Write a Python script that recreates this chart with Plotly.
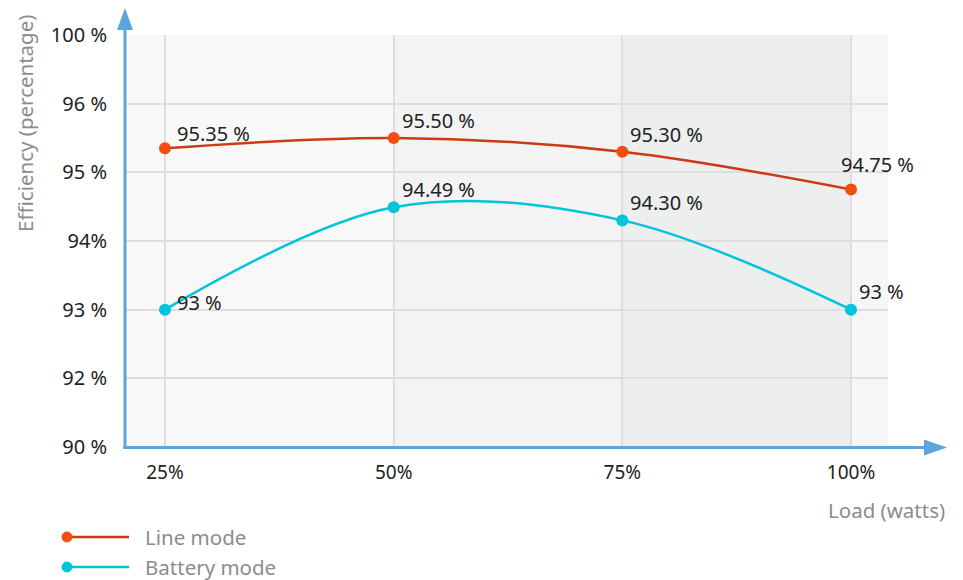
import numpy as np
import plotly.graph_objects as go

# ---- data ----
loads = [25, 50, 75, 100]
load_labels = ["25%", "50%", "75%", "100%"]
line_mode = [95.35, 95.50, 95.30, 94.75]
battery_mode = [93.0, 94.49, 94.30, 93.0]
line_mode_text = ["95.35 %", "95.50 %", "95.30 %", "94.75 %"]
battery_mode_text = ["93 %", "94.49 %", "94.30 %", "93 %"]
y_tick_values = [90, 92, 93, 94, 95, 96, 100]
y_tick_labels = ["90 %", "92 %", "93 %", "94%", "95 %", "96 %", "100 %"]

# the value axis is drawn with evenly spaced (non-linear) ticks
y_tick_pos = list(range(len(y_tick_values)))
def ypos(vals):
    return np.interp(vals, y_tick_values, y_tick_pos)

# ---- layout geometry (pixels) ----
FW, FH = 963, 580
L, R, T, B = 125, 888, 35, 447
PW, PH = R - L, B - T
def px(x):
    return (x - L) / PW
def py(y):
    return (B - y) / PH

RED_LINE = "#cc3a14"
RED_MARK = "#f24e12"
CYAN = "#00c3dc"
AXIS = "#5ca6db"
FONT = "Noto Sans"

fig = go.Figure()
fig.add_trace(go.Scatter(
    x=loads, y=ypos(line_mode), mode="lines+markers", name="Line mode",
    line=dict(color=RED_LINE, width=2.5, shape="spline", smoothing=1),
    marker=dict(color=RED_MARK, size=12), showlegend=False))
fig.add_trace(go.Scatter(
    x=loads, y=ypos(battery_mode), mode="lines+markers", name="Battery mode",
    line=dict(color=CYAN, width=2.5, shape="spline", smoothing=1),
    marker=dict(color=CYAN, size=12), showlegend=False))

annotations = []
# data labels (pixel offsets relative to marker)
line_offsets = [(10, -1), (6, 2), (6, 2), (-12, 10)]
batt_offsets = [(10, -8), (6, 2), (6, 2), (6, 3)]
for xs, vs, txt, offs in ((loads, line_mode, line_mode_text, line_offsets),
                          (loads, battery_mode, battery_mode_text, batt_offsets)):
    for x, v, t, (dx, dy) in zip(xs, vs, txt, offs):
        annotations.append(dict(
            x=x, y=float(ypos(v)), xref="x", yref="y", text=t, showarrow=False,
            xanchor="left", yanchor="bottom", xshift=dx, yshift=dy,
            font=dict(family=FONT, size=20, color="#222222")))

# axis titles
annotations.append(dict(
    x=px(25), y=py(124), xref="paper", yref="paper", text="Efficiency (percentage)",
    textangle=-90, showarrow=False, xanchor="center", yanchor="middle",
    font=dict(family=FONT, size=20.5, color="#8c8c8c")))
annotations.append(dict(
    x=px(947), y=py(510), xref="paper", yref="paper", text="Load (watts)",
    showarrow=False, xanchor="right", yanchor="middle",
    font=dict(family=FONT, size=20.5, color="#8c8c8c")))

# custom legend
shapes = []
legend_items = [("Line mode", RED_LINE, RED_MARK, 537), ("Battery mode", CYAN, CYAN, 567)]
for name, lc, mc, yy in legend_items:
    shapes.append(dict(type="line", xref="paper", yref="paper",
                       x0=px(67), x1=px(129), y0=py(yy), y1=py(yy),
                       line=dict(color=lc, width=2.5)))
    shapes.append(dict(type="circle", xref="paper", yref="paper",
                       x0=px(62), x1=px(72), y0=py(yy + 5), y1=py(yy - 5),
                       fillcolor=mc, line=dict(color=mc, width=1)))
    annotations.append(dict(
        x=px(143), y=py(yy), xref="paper", yref="paper", text=name,
        showarrow=False, xanchor="left", yanchor="middle",
        font=dict(family=FONT, size=20.5, color="#8c8c8c")))

# background bands
band_edges = [50, 75, 100]
band_colors = ["#f3f3f3", "#edefee"]
for i, c in enumerate(band_colors):
    shapes.append(dict(type="rect", xref="x", yref="paper", layer="below",
                       x0=band_edges[i], x1=band_edges[i + 1], y0=0, y1=1,
                       fillcolor=c, line=dict(width=0)))
shapes.append(dict(type="rect", xref="x", yref="paper", layer="below",
                   x0=100, x1=200, y0=0, y1=1, fillcolor="#f6f6f6", line=dict(width=0)))

# axes with arrows
shapes.append(dict(type="line", xref="paper", yref="paper",
                   x0=px(125), x1=px(125), y0=py(449), y1=py(25),
                   line=dict(color=AXIS, width=3)))
shapes.append(dict(type="line", xref="paper", yref="paper",
                   x0=px(123.5), x1=px(930), y0=py(447.5), y1=py(447.5),
                   line=dict(color=AXIS, width=3)))
shapes.append(dict(type="path", xref="paper", yref="paper",
                   path=f"M {px(125)} {py(8)} L {px(117)} {py(30)} L {px(133)} {py(30)} Z",
                   fillcolor=AXIS, line=dict(width=0)))
shapes.append(dict(type="path", xref="paper", yref="paper",
                   path=f"M {px(947)} {py(447.5)} L {px(924)} {py(439.5)} L {px(924)} {py(455.5)} Z",
                   fillcolor=AXIS, line=dict(width=0)))

x_left = 25 - (165 - L) / (851 - 165) * 75
x_right = 100 + (R - 851) / (851 - 165) * 75

fig.update_layout(
    width=FW, height=FH,
    margin=dict(l=L, r=FW - R, t=T, b=FH - B, pad=0),
    paper_bgcolor="white", plot_bgcolor="#f8f8f8",
    font=dict(family=FONT, size=18, color="#222222"),
    showlegend=False,
    xaxis=dict(range=[x_left, x_right], tickvals=loads, ticktext=load_labels,
               showgrid=True, gridcolor="#dedede", gridwidth=2, zeroline=False,
               showline=False, ticks="", ticklabelstandoff=12,
               tickfont=dict(family=FONT, size=19, color="#222222")),
    yaxis=dict(range=[0, len(y_tick_values) - 1], tickvals=y_tick_pos, ticktext=y_tick_labels,
               showgrid=True, gridcolor="#dedede", gridwidth=2, zeroline=False,
               showline=False, ticks="", ticklabelstandoff=17,
               tickfont=dict(family=FONT, size=20, color="#222222")),
    shapes=shapes, annotations=annotations,
)

fig.write_html("out.html", config={"displayModeBar": False},
               post_script="document.body.style.margin='0';")
